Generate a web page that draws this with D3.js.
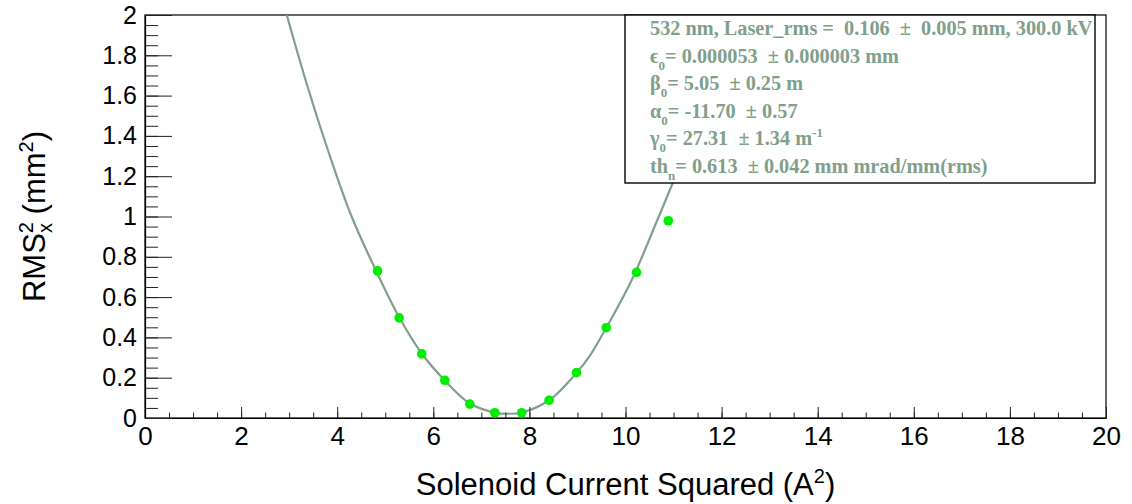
<!DOCTYPE html>
<html>
<head>
<meta charset="utf-8">
<script src="https://cdn.jsdelivr.net/npm/d3@7"></script>
<style>
  html, body { margin: 0; padding: 0; background: #fff; }
  .tick text { font-family: "Liberation Sans", Arial, sans-serif; fill: #000; }
  .title { font-family: "Liberation Sans", Arial, sans-serif; fill: #000; }
  .stats { font-family: "Liberation Serif", "Times New Roman", serif; font-weight: bold; fill: #80a08c; white-space: pre; }
</style>
</head>
<body>
<div id="chart"></div>
<script>
// measured points (x = I^2, y = RMS_x^2)
const pointX = [4.84, 5.29, 5.76, 6.24, 6.76, 7.28, 7.84, 8.41, 8.98, 9.60, 10.23, 10.89];
const pointY = [0.730, 0.497, 0.318, 0.187, 0.069, 0.026, 0.026, 0.088, 0.225, 0.448, 0.723, 0.979];

// fit curve
const curveX = [2.95, 3.37, 3.82, 4.30, 4.84, 5.29, 5.76, 6.24, 6.76, 7.28, 7.56, 7.84, 8.41, 8.98, 9.26, 9.61, 10.13, 10.65, 10.98, 11.40];
const curveY = [2.00, 1.655, 1.32, 1.00, 0.715, 0.500, 0.320, 0.186, 0.072, 0.027, 0.021, 0.027, 0.088, 0.224, 0.310, 0.452, 0.685, 0.975, 1.165, 1.420];

const xMajor = d3.range(0, 20.001, 2);
const xMinor = d3.range(0, 20.001, 0.5);
const yMajor = d3.range(0, 2.0001, 0.2).map(v => +v.toFixed(1));
const yMinor = d3.range(0, 2.0001, 0.05);

const statsLines = [
  "532 nm, Laser_rms =  0.106  \u00b1  0.005 mm, 300.0 kV",
  "\u03f5|0|= 0.000053  \u00b1 0.000003 mm",
  "\u03b2|0|= 5.05  \u00b1 0.25 m",
  "\u03b1|0|= -11.70  \u00b1 0.57",
  "\u03b3|0|= 27.31  \u00b1 1.34 m^-1",
  "th|n|= 0.613  \u00b1 0.042 mm mrad/mm(rms)"
];

// sizing
const outerW = 1132, outerH = 504;
const frame = { left: 145, right: 1106, top: 15, bottom: 418 };

const svg = d3.select("#chart").append("svg")
  .attr("width", outerW)
  .attr("height", outerH);

const x = d3.scaleLinear().domain([0, 20]).range([frame.left, frame.right]);
const y = d3.scaleLinear().domain([0, 2]).range([frame.bottom, frame.top]);

svg.append("defs").append("clipPath").attr("id", "plotClip")
  .append("rect")
  .attr("x", frame.left).attr("y", frame.top)
  .attr("width", frame.right - frame.left).attr("height", frame.bottom - frame.top);

// frame
svg.append("rect")
  .attr("x", frame.left).attr("y", frame.top)
  .attr("width", frame.right - frame.left).attr("height", frame.bottom - frame.top)
  .attr("fill", "none").attr("stroke", "#000").attr("stroke-width", 1.2);

// fit curve
const line = d3.line()
  .x((d, i) => x(curveX[i]))
  .y((d, i) => y(curveY[i]))
  .curve(d3.curveCatmullRom.alpha(0.5));

svg.append("path")
  .attr("clip-path", "url(#plotClip)")
  .attr("d", line(curveX))
  .attr("fill", "none")
  .attr("stroke", "#80a08c")
  .attr("stroke-width", 2.2);

// data points
svg.append("g").selectAll("circle")
  .data(pointX)
  .join("circle")
  .attr("cx", (d, i) => x(pointX[i]))
  .attr("cy", (d, i) => y(pointY[i]))
  .attr("r", 4.8)
  .attr("fill", "#00ee00");

// stats box
const statsG = svg.append("g");
statsG.append("rect")
  .attr("x", 625).attr("y", 15).attr("width", 470).attr("height", 168)
  .attr("fill", "#fff").attr("stroke", "#000").attr("stroke-width", 1.4);

statsLines.forEach((s, i) => {
  const t = statsG.append("text").attr("class", "stats")
    .attr("x", 650).attr("y", 35 + i * 27.6)
    .attr("xml:space", "preserve")
    .style("font-size", "20.3px");
  // "|..|" marks a subscript, "^.." a superscript at the end
  let rest = s, sup = null;
  if (rest.includes("^")) { [rest, sup] = rest.split("^"); }
  const parts = rest.split("|");
  if (parts.length === 3) {
    t.append("tspan").text(parts[0]);
    t.append("tspan").attr("dy", 7).style("font-size", "13px").text(parts[1]);
    t.append("tspan").attr("dy", -7).text(parts[2]);
  } else {
    t.append("tspan").text(rest);
  }
  if (sup) t.append("tspan").attr("dy", -8).style("font-size", "13px").text(sup);
});

// axes
const xAxisG = svg.append("g").attr("transform", `translate(0,${frame.bottom})`);
xAxisG.append("g")
  .call(d3.axisBottom(x).tickValues(xMinor).tickSize(-5.5).tickFormat(""))
  .call(g => g.select(".domain").remove());
xAxisG.append("g")
  .call(d3.axisBottom(x).tickValues(xMajor).tickSizeInner(-11).tickSizeOuter(0).tickPadding(9).tickFormat(d3.format("d")))
  .call(g => g.select(".domain").attr("stroke-width", 1.2));
xAxisG.selectAll(".tick line").attr("stroke", "#222");
xAxisG.selectAll(".tick text").style("font-size", "26px");

const yAxisG = svg.append("g").attr("transform", `translate(${frame.left},0)`);
yAxisG.append("g")
  .call(d3.axisLeft(y).tickValues(yMinor).tickSize(-13).tickFormat(""))
  .call(g => g.select(".domain").remove());
yAxisG.append("g")
  .call(d3.axisLeft(y).tickValues(yMajor).tickSizeInner(-27).tickSizeOuter(0).tickPadding(8).tickFormat(d => d3.format("")(d)))
  .call(g => g.select(".domain").attr("stroke-width", 1.2));
yAxisG.selectAll(".tick line").attr("stroke", "#222");
yAxisG.selectAll(".tick text").style("font-size", "25px");

// axis titles
const xt = svg.append("text").attr("class", "title")
  .attr("x", (frame.left + frame.right) / 2).attr("y", 495)
  .attr("text-anchor", "middle").style("font-size", "31px");
xt.append("tspan").text("Solenoid Current Squared (A");
xt.append("tspan").attr("dy", -12).style("font-size", "20px").text("2");
xt.append("tspan").attr("dy", 12).text(")");

const yt = svg.append("text").attr("class", "title")
  .attr("transform", `translate(45,${(frame.top + frame.bottom) / 2}) rotate(-90)`)
  .attr("text-anchor", "middle").style("font-size", "31px");
yt.append("tspan").text("RMS");
yt.append("tspan").attr("dy", -12).style("font-size", "20px").text("2");
yt.append("tspan").attr("dx", -11).attr("dy", 19).style("font-size", "20px").text("x");
yt.append("tspan").attr("dy", -7).text(" (mm");
yt.append("tspan").attr("dy", -12).style("font-size", "20px").text("2");
yt.append("tspan").attr("dy", 12).text(")");
</script>
</body>
</html>
